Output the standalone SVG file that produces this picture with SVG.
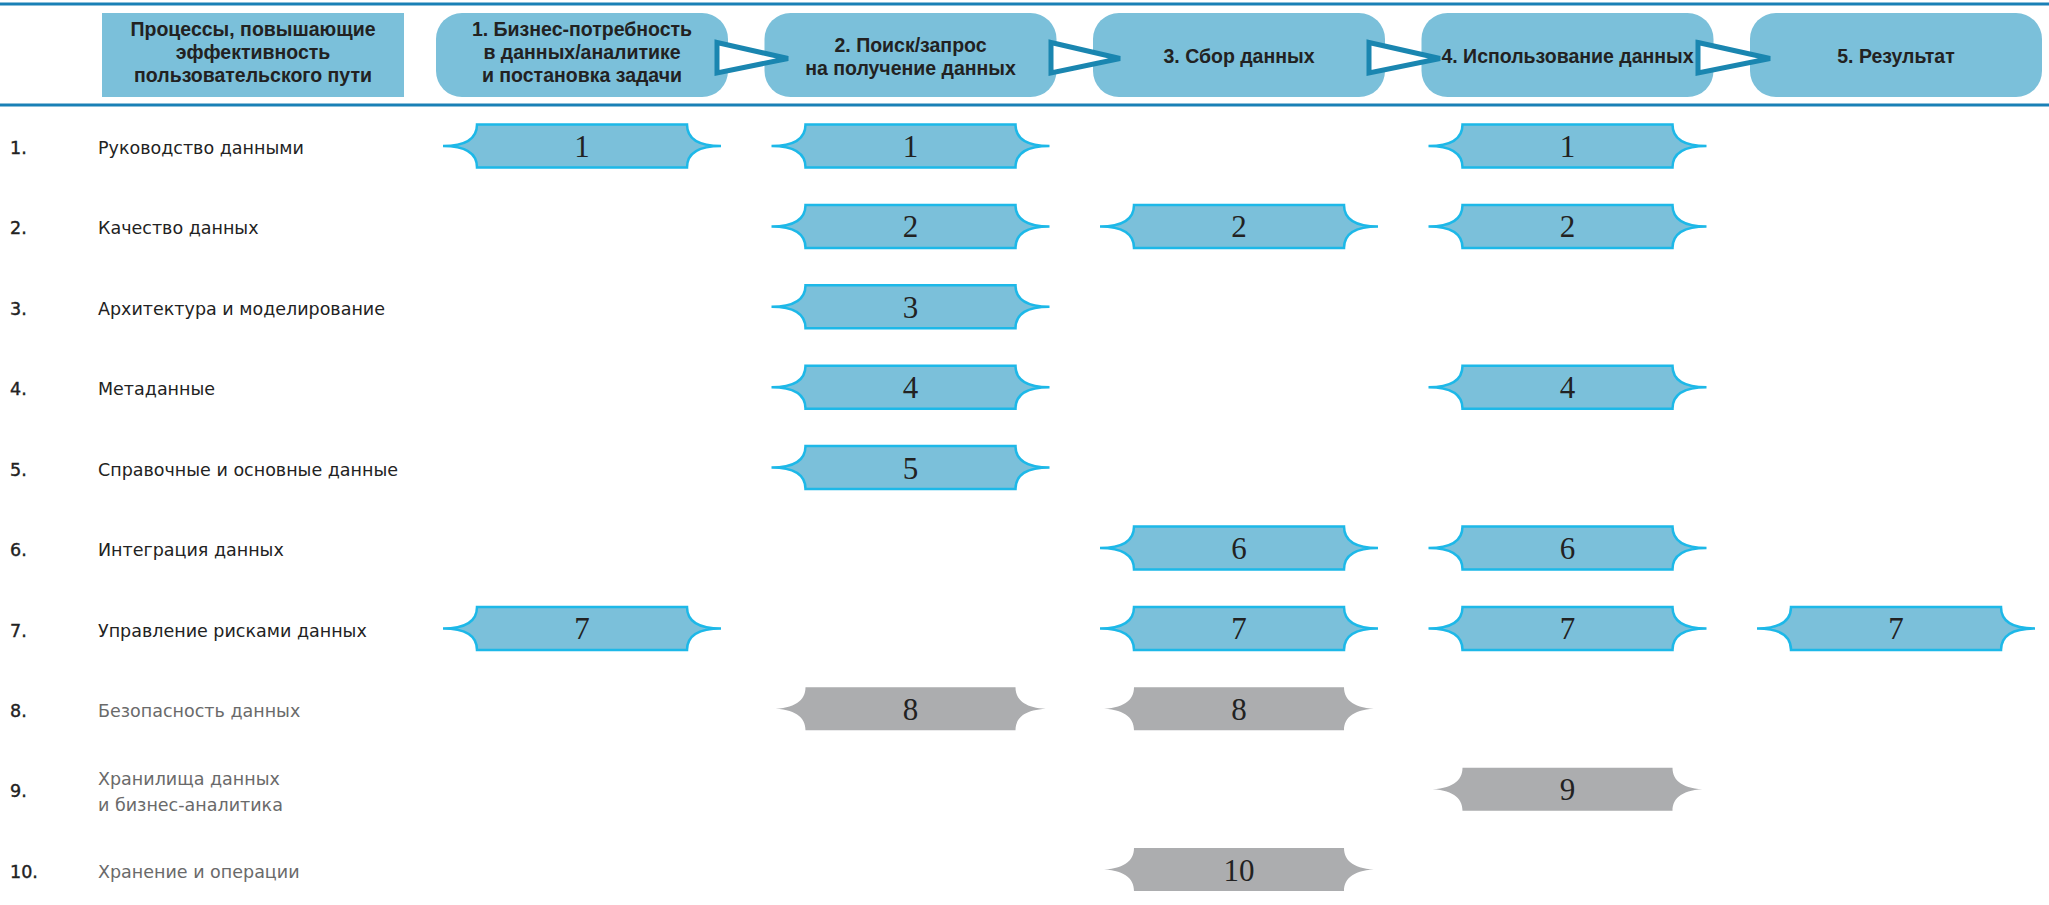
<svg xmlns="http://www.w3.org/2000/svg" width="2049" height="905" viewBox="0 0 2049 905">
<defs>
<style>
.hbox{fill:#7bc0da;}
.hl{stroke:#1a80b6;stroke-width:3;fill:none;}
.arr{fill:#fff;stroke:#1a86b0;stroke-width:5;stroke-linejoin:miter;}
.ht{font-family:"Liberation Sans",Arial,sans-serif;font-weight:bold;font-size:19.5px;fill:#222;text-anchor:middle;}
.num{font-family:"DejaVu Sans",sans-serif;font-size:17.5px;fill:#222;stroke:#222;stroke-width:0.4;}
.lab{font-family:"DejaVu Sans",sans-serif;font-size:17.5px;fill:#222;}
.lab.g{fill:#6a6a6a;}
.tag{fill:#7bc0da;stroke:#1db8e8;stroke-width:2.5;}
.tag.g{fill:#acadaf;stroke:none;}
.tt{font-family:"Liberation Serif","Times New Roman",serif;font-size:31px;fill:#222;text-anchor:middle;}
</style>
<path id="tagshape" d="M-105,-21.5 H105 C105,-8 116,0 139,0 C116,0 105,8 105,21.5 H-105 C-105,8 -116,0 -139,0 C-116,0 -105,-8 -105,-21.5 Z"/>
</defs>
<g id="rules">
<line class="hl" x1="0" y1="4" x2="2049" y2="4"/>
<line class="hl" x1="0" y1="105" x2="2049" y2="105"/>
</g>
<g id="h0"><rect class="hbox" x="102" y="13" width="302" height="84"/>
<text class="ht" x="253" y="36">Процессы, повышающие</text>
<text class="ht" x="253" y="59">эффективность</text>
<text class="ht" x="253" y="82">пользовательского пути</text></g>
<g id="h1"><rect class="hbox" x="436" y="13" width="292" height="84" rx="26"/>
<text class="ht" x="582" y="36">1. Бизнес-потребность</text>
<text class="ht" x="582" y="59">в данных/аналитике</text>
<text class="ht" x="582" y="82">и постановка задачи</text></g>
<g id="h2"><rect class="hbox" x="764.5" y="13" width="292" height="84" rx="26"/>
<text class="ht" x="910.5" y="52">2. Поиск/запрос</text>
<text class="ht" x="910.5" y="75">на получение данных</text></g>
<g id="h3"><rect class="hbox" x="1093" y="13" width="292" height="84" rx="26"/>
<text class="ht" x="1239" y="63">3. Сбор данных</text></g>
<g id="h4"><rect class="hbox" x="1421.5" y="13" width="292" height="84" rx="26"/>
<text class="ht" x="1567.5" y="63">4. Использование данных</text></g>
<g id="h5"><rect class="hbox" x="1750" y="13" width="292" height="84" rx="26"/>
<text class="ht" x="1896" y="63">5. Результат</text></g>
<g id="connectors">
<path class="arr" d="M717,42.5 L788,58.5 L717,73 Z"/>
<path class="arr" d="M1051,42.5 L1120,58.5 L1051,73 Z"/>
<path class="arr" d="M1369,42.5 L1440,58.5 L1369,73 Z"/>
<path class="arr" d="M1698,42.5 L1770,58.5 L1698,73 Z"/>
</g>
<g id="rows">
<text class="num" x="10" y="154">1.</text><text class="lab" x="98" y="154">Руководство данными</text>
<text class="num" x="10" y="234">2.</text><text class="lab" x="98" y="234">Качество данных</text>
<text class="num" x="10" y="315">3.</text><text class="lab" x="98" y="315">Архитектура и моделирование</text>
<text class="num" x="10" y="395">4.</text><text class="lab" x="98" y="395">Метаданные</text>
<text class="num" x="10" y="476">5.</text><text class="lab" x="98" y="476">Справочные и основные данные</text>
<text class="num" x="10" y="556">6.</text><text class="lab" x="98" y="556">Интеграция данных</text>
<text class="num" x="10" y="637">7.</text><text class="lab" x="98" y="637">Управление рисками данных</text>
<text class="num" x="10" y="717">8.</text><text class="lab g" x="98" y="717">Безопасность данных</text>
<text class="num" x="10" y="797">9.</text><text class="lab g" x="98" y="785">Хранилища данных</text><text class="lab g" x="98" y="811">и бизнес-аналитика</text>
<text class="num" x="10" y="878">10.</text><text class="lab g" x="98" y="878">Хранение и операции</text>
</g>
<g id="tags">
<g id="t1-1" transform="translate(582,146)"><use href="#tagshape" class="tag"/><text class="tt" y="11">1</text></g>
<g id="t1-2" transform="translate(910.5,146)"><use href="#tagshape" class="tag"/><text class="tt" y="11">1</text></g>
<g id="t1-4" transform="translate(1567.5,146)"><use href="#tagshape" class="tag"/><text class="tt" y="11">1</text></g>
<g id="t2-2" transform="translate(910.5,226.4)"><use href="#tagshape" class="tag"/><text class="tt" y="11">2</text></g>
<g id="t2-3" transform="translate(1239,226.4)"><use href="#tagshape" class="tag"/><text class="tt" y="11">2</text></g>
<g id="t2-4" transform="translate(1567.5,226.4)"><use href="#tagshape" class="tag"/><text class="tt" y="11">2</text></g>
<g id="t3-2" transform="translate(910.5,306.8)"><use href="#tagshape" class="tag"/><text class="tt" y="11">3</text></g>
<g id="t4-2" transform="translate(910.5,387.2)"><use href="#tagshape" class="tag"/><text class="tt" y="11">4</text></g>
<g id="t4-4" transform="translate(1567.5,387.2)"><use href="#tagshape" class="tag"/><text class="tt" y="11">4</text></g>
<g id="t5-2" transform="translate(910.5,467.6)"><use href="#tagshape" class="tag"/><text class="tt" y="11">5</text></g>
<g id="t6-3" transform="translate(1239,548)"><use href="#tagshape" class="tag"/><text class="tt" y="11">6</text></g>
<g id="t6-4" transform="translate(1567.5,548)"><use href="#tagshape" class="tag"/><text class="tt" y="11">6</text></g>
<g id="t7-1" transform="translate(582,628.4)"><use href="#tagshape" class="tag"/><text class="tt" y="11">7</text></g>
<g id="t7-3" transform="translate(1239,628.4)"><use href="#tagshape" class="tag"/><text class="tt" y="11">7</text></g>
<g id="t7-4" transform="translate(1567.5,628.4)"><use href="#tagshape" class="tag"/><text class="tt" y="11">7</text></g>
<g id="t7-5" transform="translate(1896,628.4)"><use href="#tagshape" class="tag"/><text class="tt" y="11">7</text></g>
<g id="t8-2" transform="translate(910.5,708.8)"><use href="#tagshape" class="tag g"/><text class="tt" y="11">8</text></g>
<g id="t8-3" transform="translate(1239,708.8)"><use href="#tagshape" class="tag g"/><text class="tt" y="11">8</text></g>
<g id="t9-4" transform="translate(1567.5,789.2)"><use href="#tagshape" class="tag g"/><text class="tt" y="11">9</text></g>
<g id="t10-3" transform="translate(1239,869.6)"><use href="#tagshape" class="tag g"/><text class="tt" y="11">10</text></g>
</g>
</svg>
